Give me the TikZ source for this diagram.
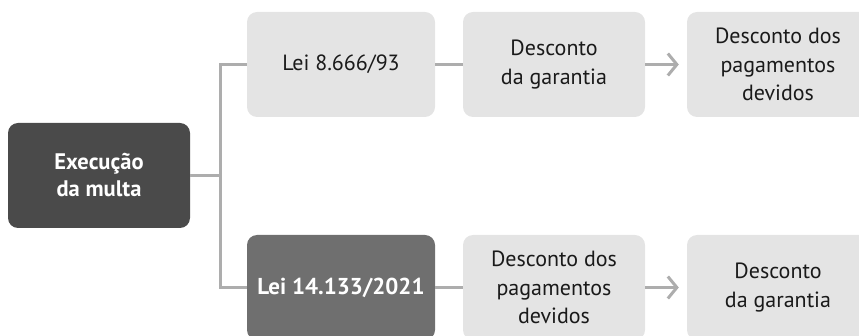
\documentclass[tikz,border=0pt]{standalone}
\usepackage{fontspec}
\setmainfont{PT Sans}
\usetikzlibrary{arrows.meta}
\definecolor{boxlight}{HTML}{E4E4E4}
\definecolor{boxdark}{HTML}{4A4A4A}
\definecolor{boxmid}{HTML}{6F6F6F}
\definecolor{linegray}{HTML}{ADADAD}
\definecolor{txt}{HTML}{1A1A1A}
\tikzset{
  base/.style={rounded corners=10pt, align=center, inner sep=0pt,
    minimum height=105pt, font=\fontsize{22}{28.5}\selectfont},
  lightbox/.style={base, fill=boxlight, text=txt, minimum width=182pt},
  darkbox/.style={base, fill=boxdark, text=white, minimum width=182pt, font=\fontsize{22.5}{27}\selectfont\bfseries},
  midbox/.style={base, fill=boxmid, text=white, minimum width=188pt, font=\fontsize{23}{27}\selectfont\bfseries},
  lawbox/.style={lightbox, minimum width=188pt},
  conn/.style={draw=linegray, line width=3pt},
  arr/.style={conn, -{Straight Barb[length=9pt, width=22pt]}}
}
\begin{document}
\begin{tikzpicture}[x=1pt,y=-1pt]
\useasboundingbox (0,0) rectangle (859,336);
\clip (0,0) rectangle (859,336);
\node[darkbox] (exec) at (99,175.5) {Execução\\da multa};
\node[lawbox] (lei1) at (341,64.5) {Lei 8.666/93};
\node[midbox] (lei2) at (341,287.5) {Lei 14.133/2021};
\node[lightbox] (g1) at (554,64.5) {Desconto\\da garantia};
\node[lightbox] (p1) at (778,64.5) {Desconto dos\\pagamentos\\devidos};
\node[lightbox] (p2) at (554,287.5) {Desconto dos\\pagamentos\\devidos};
\node[lightbox] (g2) at (778,287.5) {Desconto\\da garantia};
\coordinate (j) at (220,175.5);
\draw[conn] (exec.east) -- (j);
\draw[conn] (lei1.west) -| (j) |- (lei2.west);
\draw[conn] (lei1.east) -- (g1.west);
\draw[conn] (lei2.east) -- (p2.west);
\draw[arr] (g1.east) -- ([xshift=-8pt]p1.west);
\draw[arr] (p2.east) -- ([xshift=-8pt]g2.west);
\end{tikzpicture}
\end{document}
